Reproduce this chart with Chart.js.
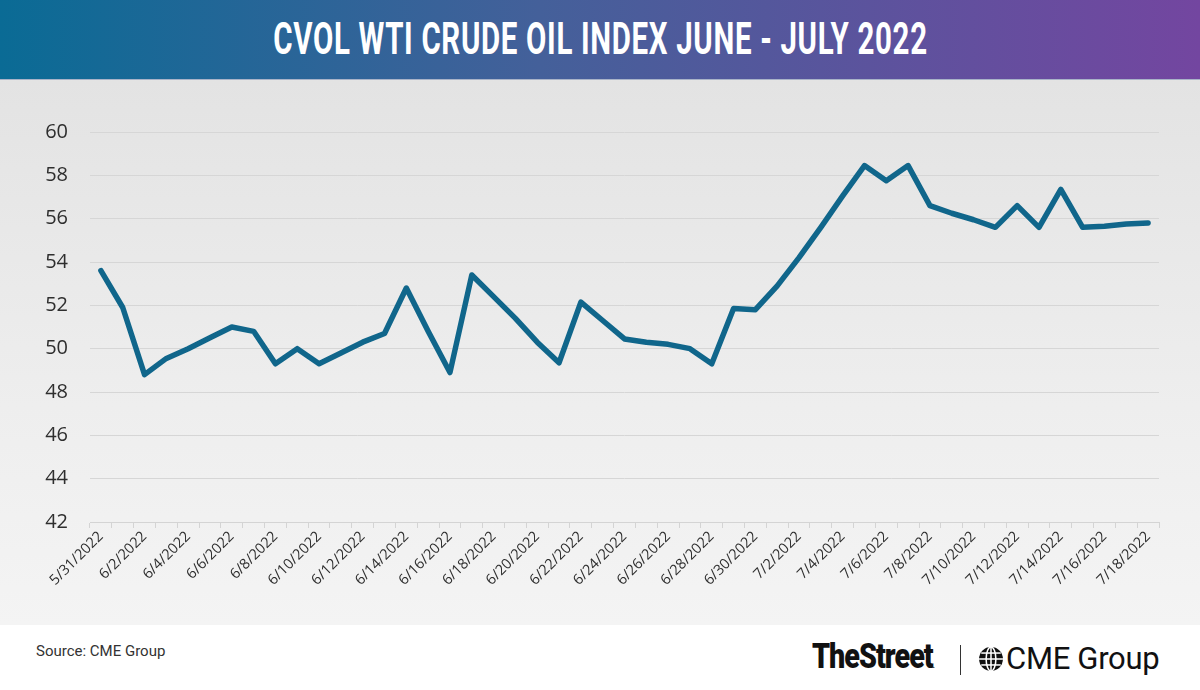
<!DOCTYPE html>
<html>
<head>
<meta charset="utf-8">
<script src="https://cdn.jsdelivr.net/npm/chart.js@4"></script>
<style>
  html, body { margin: 0; padding: 0; width: 1200px; height: 690px; overflow: hidden; background: #fff; }
  #header {
    position: absolute; left: 0; top: 0; width: 1200px; height: 79px;
    background: linear-gradient(to right, #0a6b95 0%, #44609a 45%, #7346a0 100%);
    border-bottom: 1px solid #a9b3c8;
    text-align: center;
  }
  #title {
    display: inline-block; color: #fff; font-family: Roboto, sans-serif; font-weight: 700;
    font-size: 44px; line-height: 79px; transform: scaleX(0.67); transform-origin: center; white-space: nowrap;
    letter-spacing: 1px;
  }
  #plot {
    position: absolute; left: 0; top: 80px; width: 1200px; height: 545px;
    background: linear-gradient(to bottom, #e3e3e3 0%, #eeeeee 60%, #f4f4f4 100%);
  }
  #footer { position: absolute; left: 0; top: 625px; width: 1200px; height: 65px; background: #fff; }
  #source { position: absolute; left: 36px; top: 17px; font-family: Roboto, sans-serif; font-size: 15px; color: #333; }
  #thestreet {
    position: absolute; left: 812px; top: 11px; font-family: Roboto, sans-serif; font-weight: 900;
    font-size: 35px; color: #111; transform: scaleX(0.82); transform-origin: left; letter-spacing: -1.2px;
  }
  #sep { position: absolute; left: 960px; top: 20px; width: 1px; height: 30px; background: #333; }
  #globe { position: absolute; left: 978px; top: 21px; }
  #cme { position: absolute; left: 1006px; top: 15px; font-family: Roboto, sans-serif; font-size: 31px; color: #111; letter-spacing: -0.3px; }
</style>
</head>
<body>
<div id="header"><span id="title">CVOL WTI CRUDE OIL INDEX JUNE - JULY 2022</span></div>
<div id="plot"><canvas id="chart" width="1200" height="545"></canvas></div>
<div id="footer">
  <div id="source">Source: CME Group</div>
  <div id="thestreet">TheStreet<span style="font-size:8px">.</span></div>
  <div id="sep"></div>
  <svg id="globe" width="26" height="26" viewBox="0 0 24 24">
    <circle cx="12" cy="12" r="11" fill="#111"/>
    <g stroke="#fff" stroke-width="1.4" fill="none">
      <ellipse cx="12" cy="12" rx="4.5" ry="11"/>
      <line x1="12" y1="1" x2="12" y2="23"/>
      <line x1="1" y1="12" x2="23" y2="12"/>
      <line x1="3" y1="6.5" x2="21" y2="6.5"/>
      <line x1="3" y1="17.5" x2="21" y2="17.5"/>
    </g>
  </svg>
  <div id="cme">CME Group</div>
</div>
<script>
const dates = [
  '5/31/2022', '6/1/2022', '6/2/2022', '6/3/2022', '6/4/2022', '6/5/2022', '6/6/2022',
  '6/7/2022', '6/8/2022', '6/9/2022', '6/10/2022', '6/11/2022', '6/12/2022', '6/13/2022',
  '6/14/2022', '6/15/2022', '6/16/2022', '6/17/2022', '6/18/2022', '6/19/2022', '6/20/2022',
  '6/21/2022', '6/22/2022', '6/23/2022', '6/24/2022', '6/25/2022', '6/26/2022', '6/27/2022',
  '6/28/2022', '6/29/2022', '6/30/2022', '7/1/2022', '7/2/2022', '7/3/2022', '7/4/2022',
  '7/5/2022', '7/6/2022', '7/7/2022', '7/8/2022', '7/9/2022', '7/10/2022', '7/11/2022',
  '7/12/2022', '7/13/2022', '7/14/2022', '7/15/2022', '7/16/2022', '7/17/2022', '7/18/2022'
];

const cvolValues = [
  53.6, 51.9, 48.8, 49.55, 50.0, 50.5, 51.0,
  50.8, 49.3, 50.0, 49.3, 49.8, 50.3, 50.7,
  52.8, 50.8, 48.9, 53.4, 52.4, 51.4, 50.3,
  49.35, 52.15, 51.3, 50.45, 50.3, 50.2, 50.0,
  49.3, 51.85, 51.8, 52.9, 54.2, 55.6, 57.05,
  58.45, 57.75, 58.45, 56.6, 56.25, 55.95, 55.6,
  56.6, 55.6, 57.35, 55.6, 55.65, 55.75, 55.8
];

const yMin = 42;
const yMax = 60;
const yStep = 2;

const ctx = document.getElementById('chart').getContext('2d');

new Chart(ctx, {
  type: 'line',
  data: {
    labels: dates,
    datasets: [{
      label: 'CVOL WTI Crude Oil Index',
      data: cvolValues,
      borderColor: '#10668b',
      borderWidth: 5.5,
      pointRadius: 0,
      tension: 0,
      borderJoinStyle: 'round',
      borderCapStyle: 'round',
      fill: false
    }]
  },
  options: {
    responsive: false,
    animation: false,
    layout: { padding: { top: 52, right: 41, left: 0, bottom: 0 } },
    plugins: {
      legend: { display: false },
      tooltip: { enabled: false }
    },
    scales: {
      x: {
        offset: true,
        afterFit: (scale) => { scale.height = 103; },
        grid: {
          offset: true,
          drawOnChartArea: false,
          drawTicks: true,
          tickLength: 6,
          color: '#d4d4d4'
        },
        border: { color: '#d4d4d4' },
        ticks: {
          autoSkip: false,
          maxRotation: 45,
          minRotation: 45,
          padding: 0,
          color: '#2e2e2e',
          font: { family: 'Open Sans', size: 14.5 },
          callback: function(value, index) {
            return index % 2 === 0 ? this.getLabelForValue(value) : '';
          }
        }
      },
      y: {
        min: yMin,
        max: yMax,
        afterFit: (scale) => { scale.width = 90; },
        grid: { color: '#d6d6d6', drawTicks: false },
        border: { display: false },
        ticks: {
          stepSize: yStep,
          padding: 22,
          color: '#2e2e2e',
          font: { family: 'Open Sans', size: 20 }
        }
      }
    }
  }
});
</script>
</body>
</html>
